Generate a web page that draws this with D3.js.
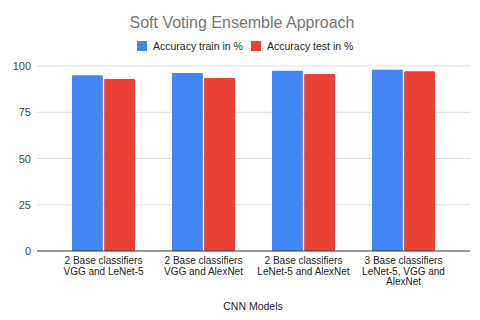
<!DOCTYPE html>
<html>
<head>
<meta charset="utf-8">
<script src="https://cdn.jsdelivr.net/npm/d3@7"></script>
<style>
  body { margin: 0; background: #fff; }
  text { font-family: "Liberation Sans", Arial, sans-serif; }
</style>
</head>
<body>
<div id="chart"></div>
<script>
// Data
var models = [
  ["2 Base classifiers", "VGG and LeNet-5"],
  ["2 Base classifiers", "VGG and AlexNet"],
  ["2 Base classifiers", "LeNet-5 and AlexNet"],
  ["3 Base classifiers", "LeNet-5, VGG and", "AlexNet"]
];
var trainAcc = [95.0, 96.2, 97.5, 98.0];
var testAcc = [93.0, 93.5, 95.7, 97.1];
var seriesNames = ["Accuracy train in %", "Accuracy test in %"];
var yTicks = [0, 25, 50, 75, 100];

var colors = ["#4285F4", "#EA4335"];

var svgWidth = 480, svgHeight = 320;

var svg = d3.select("#chart")
  .append("svg")
  .attr("width", svgWidth)
  .attr("height", svgHeight);

var plotLeft = 37, plotRight = 470;
var yScale = d3.scaleLinear().domain([0, 100]).range([251, 66]);

var x0 = d3.scaleBand()
  .domain(d3.range(models.length))
  .range([53.5, 453.5])
  .paddingInner(0.37)
  .paddingOuter(0.185);

var x1 = d3.scaleBand()
  .domain([0, 1])
  .range([0, x0.bandwidth()])
  .paddingInner(0.04);

// Title
svg.append("text")
  .attr("x", 242)
  .attr("y", 28)
  .attr("text-anchor", "middle")
  .attr("fill", "#757575")
  .style("font-size", "16px")
  .text("Soft Voting Ensemble Approach");

// Legend
var legendItems = [{x: 137, name: seriesNames[0], c: colors[0]}, {x: 251, name: seriesNames[1], c: colors[1]}];
var legend = svg.selectAll(".legend")
  .data(legendItems)
  .enter().append("g")
  .attr("transform", function(d) { return "translate(" + d.x + ",41)"; });
legend.append("rect")
  .attr("width", 10).attr("height", 10)
  .attr("fill", function(d) { return d.c; });
legend.append("text")
  .attr("x", 16).attr("y", 9)
  .attr("fill", "#222")
  .style("font-size", "10.5px")
  .text(function(d) { return d.name; });

// Grid lines
svg.selectAll(".grid")
  .data(yTicks.filter(function(t) { return t > 0; }))
  .enter().append("line")
  .attr("x1", plotLeft).attr("x2", plotRight)
  .attr("y1", function(d) { return yScale(d); })
  .attr("y2", function(d) { return yScale(d); })
  .attr("stroke", "#e0e0e0")
  .attr("stroke-width", 1);

// Y axis labels
var leftAxis = d3.axisLeft(yScale).tickValues(yTicks).tickSize(0).tickPadding(0);
var yAxisG = svg.append("g")
  .attr("transform", "translate(31,0)")
  .call(leftAxis);
yAxisG.select(".domain").remove();
yAxisG.selectAll("text")
  .attr("fill", "#444")
  .style("font-size", "11px")
  .style("font-family", "'Liberation Sans', Arial, sans-serif");

// Bars
var groups = svg.selectAll(".group")
  .data(models)
  .enter().append("g")
  .attr("transform", function(d, i) { return "translate(" + x0(i) + ",0)"; });

groups.selectAll("rect")
  .data(function(d, i) { return [trainAcc[i], testAcc[i]]; })
  .enter().append("rect")
  .attr("x", function(d, j) { return x1(j); })
  .attr("y", function(d) { return yScale(d); })
  .attr("width", x1.bandwidth())
  .attr("height", function(d) { return yScale(0) - yScale(d); })
  .attr("fill", function(d, j) { return colors[j]; })
  .attr("rx", 1);

// Baseline
svg.append("line")
  .attr("x1", plotLeft).attr("x2", plotRight)
  .attr("y1", yScale(0)).attr("y2", yScale(0))
  .attr("stroke", "#333")
  .attr("stroke-width", 1);

// X labels
groups.append("text")
  .attr("x", x0.bandwidth() / 2)
  .attr("y", 264)
  .attr("text-anchor", "middle")
  .attr("fill", "#222")
  .style("font-size", "10px")
  .selectAll("tspan")
  .data(function(d) { return d; })
  .enter().append("tspan")
  .attr("x", x0.bandwidth() / 2)
  .attr("dy", function(d, k) { return k === 0 ? 0 : 10.5; })
  .text(function(d) { return d; });

// X axis title
svg.append("text")
  .attr("x", 253)
  .attr("y", 310)
  .attr("text-anchor", "middle")
  .attr("fill", "#222")
  .style("font-size", "10.5px")
  .text("CNN Models");
</script>
</body>
</html>
